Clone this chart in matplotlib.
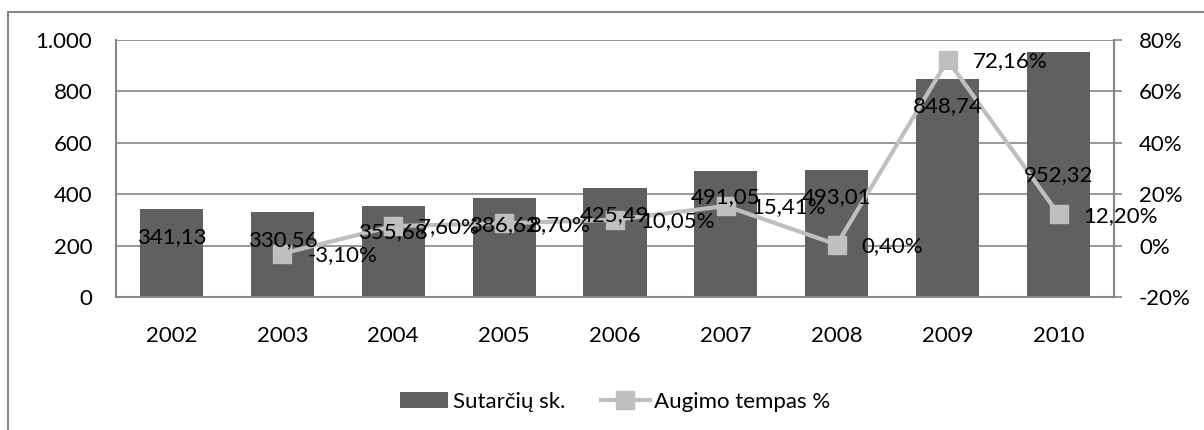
import numpy as np
import matplotlib.pyplot as plt
from matplotlib.patches import Rectangle
from matplotlib.ticker import FuncFormatter

plt.rcParams['font.family'] = ['Lato', 'DejaVu Sans']

# duomenys
years = ['2002', '2003', '2004', '2005', '2006', '2007', '2008', '2009', '2010']
contracts = [341.13, 330.56, 355.68, 386.62, 425.49, 491.05, 493.01, 848.74, 952.32]
growth = [np.nan, -3.10, 7.60, 8.70, 10.05, 15.41, 0.40, 72.16, 12.20]

# where Excel put the bar labels (left axis units)
bar_label_y = [233, 222, 253, 280, 319, 389, 389, 743, 475]

bar_color = '#606060'
line_color = '#BFBFBF'
grid_color = '#868686'
fs = 16

fig = plt.figure(figsize=(12.04, 4.30), dpi=100)
ax = fig.add_axes([116 / 1204, 1 - 297 / 430, 998 / 1204, 257 / 430])
ax2 = ax.twinx()

# outer frame of the chart
fig.patches.append(Rectangle((8 / 1204, -0.1), 1.2, 1 - 12 / 430 + 0.1,
                             transform=fig.transFigure, fill=False,
                             edgecolor=grid_color, linewidth=1.5))

x = np.arange(len(years))
ax.bar(x, contracts, width=0.57, color=bar_color, label='Sutarčių sk.', zorder=2)
ax.set_ylim(0, 1000)
ax.set_xlim(-0.5, len(years) - 0.5)
ax.set_yticks(np.arange(0, 1001, 200))
ax.yaxis.set_major_formatter(FuncFormatter(lambda v, p: f'{int(v):,}'.replace(',', '.')))
ax.set_xticks(x)
ax.set_xticklabels(years)
ax.grid(axis='y', color=grid_color, linewidth=1.2, zorder=0)
ax.set_axisbelow(True)
ax.tick_params(axis='y', length=0, pad=17, labelsize=fs)
ax.tick_params(axis='x', length=0, pad=21, labelsize=fs)
for s in ['top', 'right']:
    ax.spines[s].set_visible(False)
for s in ['left', 'bottom']:
    ax.spines[s].set_color(grid_color)
    ax.spines[s].set_linewidth(1.5)

ax2.plot(x, growth, color=line_color, linewidth=3, marker='s', markersize=13,
         markerfacecolor=line_color, markeredgecolor=line_color,
         label='Augimo tempas %', zorder=3)
ax2.set_ylim(-20, 80)
ax2.set_yticks(np.arange(-20, 81, 20))
ax2.yaxis.set_major_formatter(FuncFormatter(lambda v, p: f'{int(v)}%'))
ax2.tick_params(axis='y', length=6, width=1.2, color=grid_color, pad=12, labelsize=fs)
for s in ['top', 'left', 'bottom']:
    ax2.spines[s].set_visible(False)
ax2.spines['right'].set_color(grid_color)
ax2.spines['right'].set_linewidth(1.5)

# data labels
for xi, v, ly in zip(x, contracts, bar_label_y):
    ax2.text(xi, (ly / 1000) * 100 - 20, f'{v:.2f}'.replace('.', ','),
             ha='center', va='center', fontsize=fs, zorder=5)
for xi, g in zip(x, growth):
    if np.isnan(g):
        continue
    ax2.annotate(f'{g:.2f}%'.replace('.', ','), (xi, g), xytext=(18, -1),
                 textcoords='offset points', ha='left', va='center',
                 fontsize=fs, zorder=5)

h1, l1 = ax.get_legend_handles_labels()
h2, l2 = ax2.get_legend_handles_labels()
fig.legend(h1 + h2, l1 + l2, loc='center', bbox_to_anchor=(615 / 1204, 1 - 402 / 430),
           ncol=2, frameon=False, fontsize=fs, handlelength=2.2, handletextpad=0.2,
           columnspacing=1.6)

fig.savefig('out.png', dpi=100)
